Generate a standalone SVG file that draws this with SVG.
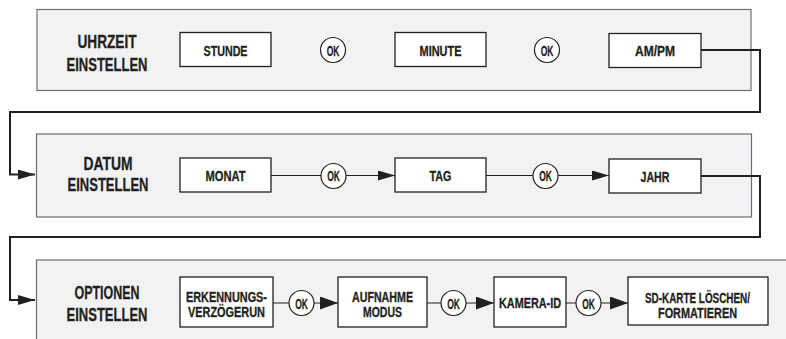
<svg xmlns="http://www.w3.org/2000/svg" width="786" height="339" viewBox="0 0 786 339">
<defs>
<style>
text{font-family:"Liberation Sans",Arial,sans-serif;font-weight:bold;fill:#231f20;stroke:#231f20;stroke-width:0.3;text-anchor:middle}
.h{font-size:18px}
.n{font-size:14px}
.panel{fill:#f1f2f4;stroke:#6d6e71;stroke-width:1.2}
.box{fill:#fff;stroke:#231f20;stroke-width:1.3}
.circ{fill:#fff;stroke:#231f20;stroke-width:1.2}
.link{fill:none;stroke:#231f20;stroke-width:1}
.flow{fill:none;stroke:#231f20;stroke-width:2}
</style>
<marker id="ah" viewBox="0 0 17 10" refX="17" refY="5" markerWidth="17" markerHeight="10" markerUnits="userSpaceOnUse" orient="auto"><path d="M0,0 L17,5 L0,10 z" fill="#231f20"/></marker>
<marker id="ah2" viewBox="0 0 18 13" refX="18" refY="6.5" markerWidth="18" markerHeight="13" markerUnits="userSpaceOnUse" orient="auto"><path d="M0,0 L18,6.5 L0,13 z" fill="#231f20"/></marker>
</defs>

<g id="panel-uhrzeit">
<rect class="panel" x="37" y="9.5" width="714" height="81"/>
<text class="h" x="107" y="48.3" textLength="59" lengthAdjust="spacingAndGlyphs">UHRZEIT</text>
<text class="h" x="107" y="70.7" textLength="81" lengthAdjust="spacingAndGlyphs">EINSTELLEN</text>
</g>
<g id="panel-datum">
<rect class="panel" x="36.5" y="134" width="715" height="83"/>
<text class="h" x="108" y="169.5" textLength="49" lengthAdjust="spacingAndGlyphs">DATUM</text>
<text class="h" x="108" y="191" textLength="81" lengthAdjust="spacingAndGlyphs">EINSTELLEN</text>
</g>
<g id="panel-optionen">
<rect class="panel" x="36.5" y="260" width="760" height="100"/>
<text class="h" x="107" y="298.5" textLength="65" lengthAdjust="spacingAndGlyphs">OPTIONEN</text>
<text class="h" x="107" y="320.5" textLength="81" lengthAdjust="spacingAndGlyphs">EINSTELLEN</text>
</g>

<g id="connectors">
<path class="flow" d="M701,50 H760 V112 H10 V174.5 H35" marker-end="url(#ah)"/>
<path class="flow" d="M701,176 H760 V237 H10 V300 H35" marker-end="url(#ah)"/>
<path class="link" d="M271,175.5 H321"/>
<path class="link" d="M346,175.5 H395" marker-end="url(#ah)"/>
<path class="link" d="M486,175.5 H533"/>
<path class="link" d="M558,175.5 H609" marker-end="url(#ah)"/>
<path class="link" d="M273,303 H289"/>
<path class="link" d="M314,303 H338" marker-end="url(#ah2)"/>
<path class="link" d="M427,303 H441"/>
<path class="link" d="M466,303 H494" marker-end="url(#ah2)"/>
<path class="link" d="M566,303 H576"/>
<path class="link" d="M601,303 H628" marker-end="url(#ah2)"/>
</g>

<g id="stunde"><rect class="box" x="180" y="32.5" width="91" height="34"/><text class="n" x="225.5" y="55.5" textLength="44" lengthAdjust="spacingAndGlyphs">STUNDE</text></g>
<g id="ok1"><circle class="circ" cx="333" cy="50" r="12.5"/><text class="n" x="333" y="55.5" textLength="12.7" lengthAdjust="spacingAndGlyphs">OK</text></g>
<g id="minute"><rect class="box" x="395" y="32.5" width="91" height="34"/><text class="n" x="440.5" y="55.5" textLength="42" lengthAdjust="spacingAndGlyphs">MINUTE</text></g>
<g id="ok2"><circle class="circ" cx="547" cy="50" r="12.5"/><text class="n" x="547" y="55.5" textLength="12.7" lengthAdjust="spacingAndGlyphs">OK</text></g>
<g id="ampm"><rect class="box" x="609" y="33.5" width="92" height="34"/><text class="n" x="655" y="56" textLength="40" lengthAdjust="spacingAndGlyphs">AM/PM</text></g>

<g id="monat"><rect class="box" x="180" y="158" width="91" height="34"/><text class="n" x="225.5" y="180.5" textLength="40" lengthAdjust="spacingAndGlyphs">MONAT</text></g>
<g id="ok3"><circle class="circ" cx="333.5" cy="176" r="12.5"/><text class="n" x="333.5" y="181" textLength="12.7" lengthAdjust="spacingAndGlyphs">OK</text></g>
<g id="tag"><rect class="box" x="395" y="158" width="91" height="34"/><text class="n" x="440.5" y="180.5" textLength="22" lengthAdjust="spacingAndGlyphs">TAG</text></g>
<g id="ok4"><circle class="circ" cx="545.5" cy="176" r="12.5"/><text class="n" x="545.5" y="181" textLength="12.7" lengthAdjust="spacingAndGlyphs">OK</text></g>
<g id="jahr"><rect class="box" x="609" y="159" width="92" height="34"/><text class="n" x="655" y="181.5" textLength="29" lengthAdjust="spacingAndGlyphs">JAHR</text></g>

<g id="erkennung"><rect class="box" x="180" y="277" width="93" height="50"/><text class="n" x="226.5" y="301.5" textLength="81" lengthAdjust="spacingAndGlyphs">ERKENNUNGS-</text><text class="n" x="226.5" y="317" textLength="77" lengthAdjust="spacingAndGlyphs">VERZÖGERUN</text></g>
<g id="ok5"><circle class="circ" cx="301.5" cy="303" r="12.5"/><text class="n" x="301.5" y="308.5" textLength="12.7" lengthAdjust="spacingAndGlyphs">OK</text></g>
<g id="aufnahme"><rect class="box" x="338" y="277" width="89" height="50"/><text class="n" x="382.5" y="301.5" textLength="61" lengthAdjust="spacingAndGlyphs">AUFNAHME</text><text class="n" x="382.5" y="317" textLength="39" lengthAdjust="spacingAndGlyphs">MODUS</text></g>
<g id="ok6"><circle class="circ" cx="453.5" cy="303" r="12.5"/><text class="n" x="453.5" y="308.5" textLength="12.7" lengthAdjust="spacingAndGlyphs">OK</text></g>
<g id="kamera"><rect class="box" x="494" y="277" width="72" height="50"/><text class="n" x="530" y="307.7" textLength="62" lengthAdjust="spacingAndGlyphs">KAMERA-ID</text></g>
<g id="ok7"><circle class="circ" cx="588.5" cy="303" r="12.5"/><text class="n" x="588.5" y="308.5" textLength="12.7" lengthAdjust="spacingAndGlyphs">OK</text></g>
<g id="sdkarte"><rect class="box" x="628" y="277" width="140" height="48"/><text class="n" x="697.5" y="302.5" textLength="105" lengthAdjust="spacingAndGlyphs">SD-KARTE LÖSCHEN/</text><text class="n" x="697.5" y="318" textLength="79" lengthAdjust="spacingAndGlyphs">FORMATIEREN</text></g>
</svg>
